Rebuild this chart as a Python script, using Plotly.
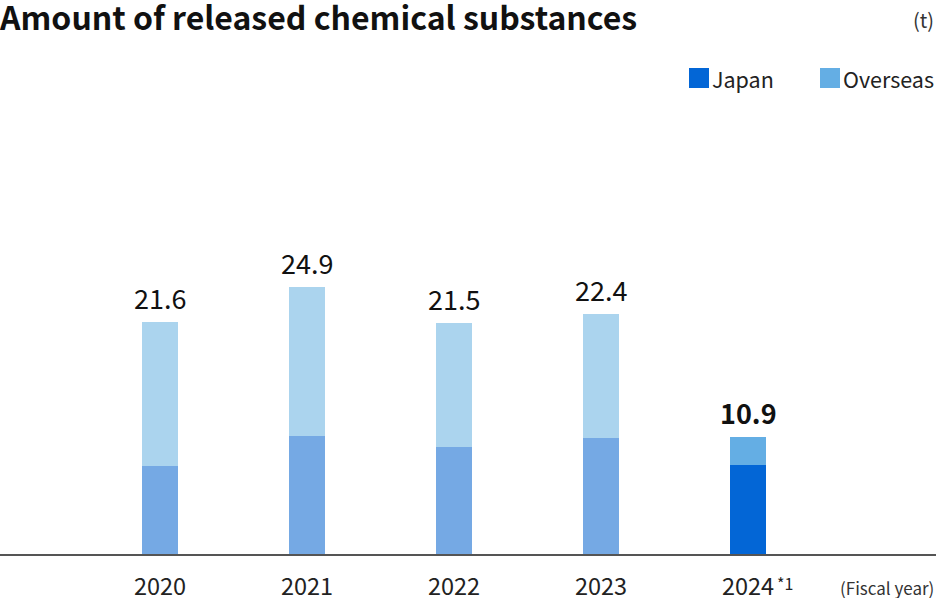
import plotly.graph_objects as go

# Data (t)
years = ["2020", "2021", "2022", "2023", "2024"]
japan = [8.2, 11.0, 10.0, 10.8, 8.3]
overseas = [13.4, 13.9, 11.5, 11.6, 2.6]
totals = [21.6, 24.9, 21.5, 22.4, 10.9]

FONT = "Noto Sans CJK JP"
pos = list(range(len(years)))

japan_colors = ["#75a9e4"] * 4 + ["#0366d6"]
overseas_colors = ["#abd4ee"] * 4 + ["#64aee4"]

fig = go.Figure()
fig.add_trace(go.Bar(x=pos, y=japan, name="Japan", marker=dict(color=japan_colors, line_width=0),
                     width=0.24, showlegend=False))
fig.add_trace(go.Bar(x=pos, y=overseas, name="Overseas", marker=dict(color=overseas_colors, line_width=0),
                     width=0.24, showlegend=False))

# Total labels above bars
for i, t in enumerate(totals):
    last = i == len(totals) - 1
    fig.add_annotation(x=pos[i], y=t, text=f"<b>{t}</b>" if last else f"{t}",
                       showarrow=False, yanchor="bottom", yshift=3,
                       font=dict(family=FONT, size=27, color="#111111"))

# footnote mark on the last year label
fig.add_annotation(x=pos[-1], xref="x", yref="paper", y=-29 / 454, text="*1",
                   showarrow=False, xanchor="left", yanchor="middle", xshift=27,
                   font=dict(family=FONT, size=16, color="#222222"))

# custom legend
legend_items = [("Japan", "#0366d6", 689), ("Overseas", "#64aee4", 820)]
for name, col, px0 in legend_items:
    fig.add_shape(type="rect", xref="paper", yref="paper",
                  x0=px0 / 936, x1=(px0 + 20) / 936,
                  y0=(554 - 88) / 454, y1=(554 - 68) / 454,
                  fillcolor=col, line_width=0)
    fig.add_annotation(xref="paper", yref="paper", x=(px0 + 21) / 936, y=(554 - 78) / 454,
                       text=name, showarrow=False, xanchor="left", yanchor="middle",
                       font=dict(family=FONT, size=21.5, color="#222222"))

fig.add_annotation(xref="paper", yref="paper", x=1, y=(554 - 20) / 454, text="(t)",
                   showarrow=False, xanchor="right", yanchor="middle",
                   font=dict(family=FONT, size=20, color="#333333"))
fig.add_annotation(xref="paper", yref="paper", x=1, y=-33 / 454, text="(Fiscal year)",
                   showarrow=False, xanchor="right", yanchor="middle",
                   font=dict(family=FONT, size=17, color="#333333"))

fig.update_layout(
    barmode="stack",
    width=936, height=598,
    margin=dict(l=0, r=0, t=100, b=44),
    paper_bgcolor="white", plot_bgcolor="white",
    title=dict(text="<b>Amount of released chemical substances</b>", x=0, xref="container",
               xanchor="left", y=(598 - 19) / 598, yanchor="middle",
               font=dict(family=FONT, size=32, color="#111111")),
    font=dict(family=FONT),
)
fig.update_xaxes(range=[-160 / 147, 776 / 147], tickvals=pos, ticktext=years,
                 showgrid=False, zeroline=False, showline=True, linecolor="#555555", linewidth=1.5,
                 ticks="", ticklabelstandoff=11, automargin=False,
                 tickfont=dict(family=FONT, size=23.5, color="#222222"))
fig.update_yaxes(range=[0, 454 / 10.73], visible=False, showgrid=False, automargin=False)

fig.write_html("out.html", config={"displayModeBar": False},
               post_script="document.body.style.margin='0';")
